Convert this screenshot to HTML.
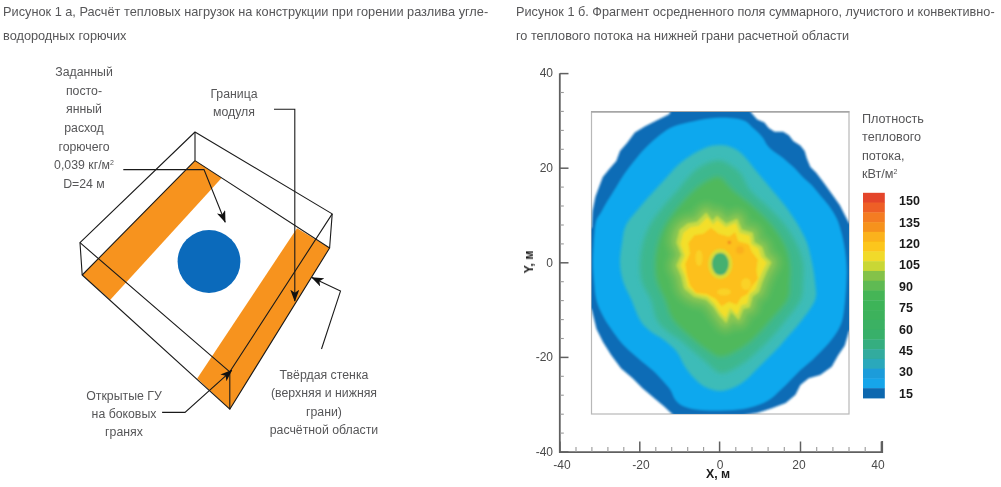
<!DOCTYPE html>
<html><head><meta charset="utf-8"><title>fig</title>
<style>
html,body{margin:0;padding:0;background:#fff}
body{width:1001px;height:487px;position:relative;overflow:hidden;font-family:"Liberation Sans",sans-serif;color:#565658}
.t{position:absolute;white-space:nowrap;font-size:12.65px;line-height:14px;will-change:transform}
.l{font-size:12.3px}
.c{text-align:center;transform:translateX(-50%)}
.r{text-align:right;transform:translateX(-100%)}
.ax{font-size:12px;color:#4a4a4a}
.b{font-weight:bold;color:#1a1a1a}
sup{font-size:7px;line-height:0;vertical-align:baseline;position:relative;top:-4.5px}
svg{position:absolute;left:0;top:0}
</style></head><body>
<div class="t" style="left:3px;top:5.1px;font-size:12.75px">Рисунок 1 а, Расчёт тепловых нагрузок на конструкции при горении разлива угле-</div>
<div class="t" style="left:3px;top:28.7px;font-size:12.75px">водородных горючих</div>
<div class="t" style="left:516.2px;top:5.1px;font-size:12.7px">Рисунок 1 б. Фрагмент осредненного поля суммарного, лучистого и конвективно-</div>
<div class="t" style="left:516.2px;top:28.8px;font-size:12.7px">го теплового потока на нижней грани расчетной области</div>

<svg width="1001" height="487" viewBox="0 0 1001 487">
<defs>
<filter id="bl" x="-5%" y="-5%" width="110%" height="110%"><feGaussianBlur stdDeviation="1.1"/></filter>
<filter id="bl3" x="-5%" y="-5%" width="110%" height="110%"><feGaussianBlur stdDeviation="2.6"/></filter>
<filter id="bl5" x="-5%" y="-5%" width="110%" height="110%"><feGaussianBlur stdDeviation="1.8"/></filter>
<filter id="bl4" x="-5%" y="-5%" width="110%" height="110%"><feGaussianBlur stdDeviation="1.3"/></filter>
<filter id="bl2"><feGaussianBlur stdDeviation="0.6"/></filter>
<clipPath id="box"><rect x="591.5" y="112" width="257.5" height="302"/></clipPath>
<marker id="ah" viewBox="0 0 12 9" refX="11.3" refY="4.5" markerWidth="12" markerHeight="9" orient="auto" markerUnits="userSpaceOnUse"><path d="M0,0L12,4.5L0,9L3,4.5Z" fill="#111"/></marker>
</defs>

<!-- left diagram -->
<g>
<polygon points="82.2,275 195,160.6 221.6,178 110.3,299.8" fill="#f7931e"/>
<polygon points="297,228.2 329.6,248 229.8,409.2 197.2,378.4" fill="#f7931e"/>
<circle cx="209" cy="261.5" r="31.4" fill="#0b6abb"/>
<g fill="none" stroke="#1a1a1a" stroke-width="1.1" stroke-linejoin="round">
<polygon points="195,132 332.2,213.9 229.8,371.8 80,242.7"/>
<polygon points="195,160.6 329.6,248 229.8,409.2 82.2,275"/>
<path d="M195,132V160.6M80,242.7L82.2,275M229.8,371.8V409.2M332.2,213.9L329.6,248"/>
</g>
<g fill="none" stroke="#1a1a1a" stroke-width="1.1">
<path d="M123.3,169.6H204L225.2,222.2" marker-end="url(#ah)"/>
<path d="M274,109.2H294.8V301" marker-end="url(#ah)"/>
<path d="M321.5,349L340.5,291.1L311.9,277.6" marker-end="url(#ah)"/>
<path d="M162.1,412.4H185L231.8,370.3" marker-end="url(#ah)"/>
</g>
</g>

<!-- right chart -->
<g filter="url(#bl2)"><path d="M559.8,73.3V452.2H882.2V441" fill="none" stroke="#606060" stroke-width="1.8"/><path d="M560.0,452v-10.5" stroke="#606060" stroke-width="1.5"/><path d="M560,452.0h8.5" stroke="#606060" stroke-width="1.5"/><path d="M576.0,452v-5" stroke="#999" stroke-width="1.1"/><path d="M560,433.1h3.8" stroke="#999" stroke-width="1.1"/><path d="M591.9,452v-5" stroke="#999" stroke-width="1.1"/><path d="M560,414.2h3.8" stroke="#999" stroke-width="1.1"/><path d="M607.9,452v-5" stroke="#999" stroke-width="1.1"/><path d="M560,395.2h3.8" stroke="#999" stroke-width="1.1"/><path d="M623.8,452v-5" stroke="#999" stroke-width="1.1"/><path d="M560,376.3h3.8" stroke="#999" stroke-width="1.1"/><path d="M639.8,452v-10.5" stroke="#606060" stroke-width="1.5"/><path d="M560,357.4h8.5" stroke="#606060" stroke-width="1.5"/><path d="M655.8,452v-5" stroke="#999" stroke-width="1.1"/><path d="M560,338.5h3.8" stroke="#999" stroke-width="1.1"/><path d="M671.7,452v-5" stroke="#999" stroke-width="1.1"/><path d="M560,319.6h3.8" stroke="#999" stroke-width="1.1"/><path d="M687.7,452v-5" stroke="#999" stroke-width="1.1"/><path d="M560,300.6h3.8" stroke="#999" stroke-width="1.1"/><path d="M703.6,452v-5" stroke="#999" stroke-width="1.1"/><path d="M560,281.7h3.8" stroke="#999" stroke-width="1.1"/><path d="M719.6,452v-10.5" stroke="#606060" stroke-width="1.5"/><path d="M560,262.8h8.5" stroke="#606060" stroke-width="1.5"/><path d="M735.8,452v-5" stroke="#999" stroke-width="1.1"/><path d="M560,243.9h3.8" stroke="#999" stroke-width="1.1"/><path d="M752.0,452v-5" stroke="#999" stroke-width="1.1"/><path d="M560,225.0h3.8" stroke="#999" stroke-width="1.1"/><path d="M768.1,452v-5" stroke="#999" stroke-width="1.1"/><path d="M560,206.0h3.8" stroke="#999" stroke-width="1.1"/><path d="M784.3,452v-5" stroke="#999" stroke-width="1.1"/><path d="M560,187.1h3.8" stroke="#999" stroke-width="1.1"/><path d="M800.5,452v-10.5" stroke="#606060" stroke-width="1.5"/><path d="M560,168.2h8.5" stroke="#606060" stroke-width="1.5"/><path d="M816.7,452v-5" stroke="#999" stroke-width="1.1"/><path d="M560,149.3h3.8" stroke="#999" stroke-width="1.1"/><path d="M832.9,452v-5" stroke="#999" stroke-width="1.1"/><path d="M560,130.4h3.8" stroke="#999" stroke-width="1.1"/><path d="M849.0,452v-5" stroke="#999" stroke-width="1.1"/><path d="M560,111.4h3.8" stroke="#999" stroke-width="1.1"/><path d="M865.2,452v-5" stroke="#999" stroke-width="1.1"/><path d="M560,92.5h3.8" stroke="#999" stroke-width="1.1"/><path d="M881.4,452v-10.5" stroke="#606060" stroke-width="1.5"/><path d="M560,73.6h8.5" stroke="#606060" stroke-width="1.5"/></g>
<g filter="url(#bl2)"><rect x="591.5" y="112" width="257.5" height="302" fill="#fff" stroke="#b8b8b8" stroke-width="1.2"/><path d="M591,111.8H849.5" stroke="#a6a6a6" stroke-width="1.6"/></g>
<g clip-path="url(#box)"><g filter="url(#bl)">
<polygon points="671.0,110.0 749.5,110.0 751.5,113.0 757.2,119.5 764.4,122.4 768.7,128.1 774.5,131.7 783.1,131.7 788.9,135.3 793.2,141.0 800.3,145.4 804.7,151.1 806.8,158.3 810.4,166.9 816.2,172.7 823.4,182.2 831.7,193.7 839.9,205.2 844.8,215.1 849.1,223.3 851.0,223.0 851.0,330.7 849.1,330.7 844.8,345.4 838.2,355.3 831.7,366.8 820.2,375.0 808.7,378.3 800.4,384.9 795.5,394.8 785.7,403.0 772.5,407.9 757.7,412.8 741.3,415.5 673.7,415.5 663.9,406.2 654.0,398.0 642.5,388.2 632.6,378.3 621.1,368.4 611.3,355.3 603.1,342.2 596.5,329.0 591.6,309.3 590.0,309.0 590.0,228.0 591.7,228.0 592.4,211.4 595.4,196.7 599.1,186.8 602.8,177.0 608.9,169.6 616.3,161.0 620.0,151.1 627.4,142.5 634.8,132.6 644.7,126.5 657.0,120.3 669.3,114.2" fill="#0f6cb6"/>
<path d="M715.0,118.1C721.9,117.6 729.6,117.9 734.7,118.5C739.8,119.1 742.9,120.2 745.7,121.6C748.5,123.0 749.6,125.0 751.5,126.7C753.4,128.4 755.3,129.8 757.2,131.7C759.1,133.6 761.3,135.9 763.0,138.2C764.7,140.5 765.6,143.2 767.3,145.4C769.0,147.6 770.9,149.3 773.0,151.1C775.1,152.9 777.8,154.3 780.2,156.1C782.6,157.9 785.0,159.9 787.4,161.9C789.8,163.9 792.1,165.9 794.6,168.3C797.1,170.7 799.2,173.6 802.1,176.5C805.0,179.4 808.9,182.3 811.9,185.5C814.9,188.7 817.5,192.1 820.2,195.4C823.0,198.7 825.7,201.4 828.4,205.2C831.1,209.0 834.4,213.7 836.6,218.4C838.8,223.1 840.1,228.0 841.5,233.2C842.9,238.4 844.0,244.3 844.8,249.6C845.6,254.9 846.1,260.0 846.4,265.0C846.7,270.0 846.7,273.4 846.4,279.7C846.1,286.0 845.6,295.6 844.8,302.7C844.0,309.8 843.4,316.6 841.5,322.4C839.6,328.1 836.3,332.8 833.3,337.2C830.3,341.6 827.0,344.9 823.4,348.7C819.8,352.5 815.7,356.6 811.9,360.2C808.1,363.8 803.9,366.8 800.4,370.1C796.9,373.4 793.9,376.7 790.6,380.0C787.3,383.3 784.3,386.5 780.7,389.8C777.1,393.1 773.6,397.0 769.2,399.7C764.8,402.4 759.6,404.6 754.4,406.2C749.2,407.8 744.6,408.8 738.0,409.5C731.4,410.2 721.9,410.5 715.0,410.5C708.1,410.5 701.9,410.2 696.7,409.5C691.5,408.8 687.2,407.8 683.6,406.2C680.0,404.6 677.6,402.4 675.4,399.7C673.2,397.0 672.6,393.1 670.4,389.8C668.2,386.5 665.2,383.3 662.2,380.0C659.2,376.7 655.7,373.1 652.4,370.1C649.1,367.1 646.1,364.9 642.5,361.9C638.9,358.9 634.6,355.3 631.0,352.0C627.4,348.7 624.4,346.0 621.1,342.2C617.8,338.4 614.3,333.4 611.3,329.0C608.3,324.6 605.6,320.7 603.1,315.9C600.6,311.1 598.0,306.0 596.5,300.0C595.0,294.0 594.6,286.3 594.0,280.0C593.4,273.7 593.0,268.7 593.0,262.0C593.0,255.3 593.5,246.7 594.0,240.0C594.5,233.3 594.8,226.7 596.0,222.0C597.2,217.3 599.4,215.6 601.4,212.0C603.4,208.4 605.5,204.4 608.0,200.3C610.5,196.2 613.5,191.6 616.2,187.2C618.9,182.8 621.4,178.4 624.4,174.0C627.4,169.6 630.7,165.3 634.3,160.9C637.9,156.5 641.4,152.1 645.8,147.7C650.2,143.3 656.0,138.1 660.6,134.6C665.2,131.1 668.2,128.6 673.7,126.4C679.2,124.2 686.5,122.8 693.4,121.4C700.3,120.0 708.1,118.6 715.0,118.1Z" fill="#08a8ee"/>
</g><g filter="url(#bl5)">
<path d="M720.0,145.0C724.3,145.0 728.2,145.8 732.0,147.5C735.8,149.2 738.8,150.9 743.0,155.0C747.2,159.1 752.2,166.2 757.0,172.0C761.8,177.8 767.2,184.2 772.0,190.0C776.8,195.8 781.7,201.2 786.0,207.0C790.3,212.8 794.5,219.0 798.0,225.0C801.5,231.0 804.7,236.7 807.0,243.0C809.3,249.3 810.7,256.5 812.0,263.0C813.3,269.5 814.5,275.8 815.0,282.0C815.5,288.2 817.2,293.7 815.0,300.0C812.8,306.3 807.0,313.3 802.0,320.0C797.0,326.7 789.0,335.3 785.0,340.0C781.0,344.7 780.8,345.0 778.0,348.0C775.2,351.0 771.3,354.7 768.0,358.0C764.7,361.3 761.5,364.5 758.0,368.0C754.5,371.5 750.8,375.8 747.0,379.0C743.2,382.2 739.5,385.0 735.0,387.0C730.5,389.0 725.0,391.0 720.0,391.0C715.0,391.0 709.5,389.3 705.0,387.0C700.5,384.7 696.5,380.7 693.0,377.0C689.5,373.3 686.7,369.2 684.0,365.0C681.3,360.8 680.3,356.2 677.0,352.0C673.7,347.8 668.5,343.5 664.0,340.0C659.5,336.5 654.0,334.3 650.0,331.0C646.0,327.7 643.1,325.2 640.0,320.0C636.9,314.8 634.3,306.5 631.5,300.0C628.7,293.5 624.9,287.2 623.0,281.0C621.1,274.8 620.2,269.3 620.0,263.0C619.8,256.7 621.0,249.3 622.0,243.0C623.0,236.7 623.0,231.0 626.0,225.0C629.0,219.0 635.2,212.8 640.0,207.0C644.8,201.2 650.7,194.8 655.0,190.0C659.3,185.2 662.3,182.0 666.0,178.0C669.7,174.0 673.0,169.7 677.0,166.0C681.0,162.3 685.2,159.1 690.0,156.0C694.8,152.9 701.0,149.3 706.0,147.5C711.0,145.7 715.7,145.0 720.0,145.0Z" fill="#3cbcb8"/>
</g><g filter="url(#bl3)">
<path d="M720.0,160.5C723.5,160.9 726.5,162.8 730.0,165.0C733.5,167.2 737.7,169.8 741.0,174.0C744.3,178.2 745.5,184.5 750.0,190.0C754.5,195.5 762.2,201.2 768.0,207.0C773.8,212.8 780.2,218.7 785.0,225.0C789.8,231.3 794.0,238.7 797.0,245.0C800.0,251.3 802.0,256.8 803.0,263.0C804.0,269.2 803.4,275.8 803.0,282.0C802.6,288.2 803.3,293.7 800.5,300.0C797.7,306.3 791.2,313.3 786.0,320.0C780.8,326.7 775.0,333.7 769.0,340.0C763.0,346.3 755.8,353.2 750.0,358.0C744.2,362.8 739.0,366.5 734.0,369.0C729.0,371.5 724.5,374.0 720.0,373.0C715.5,372.0 711.3,366.5 707.0,363.0C702.7,359.5 698.5,355.8 694.0,352.0C689.5,348.2 684.5,343.5 680.0,340.0C675.5,336.5 670.8,334.3 667.0,331.0C663.2,327.7 659.7,325.2 657.0,320.0C654.3,314.8 653.5,306.3 651.0,300.0C648.5,293.7 643.8,288.2 642.0,282.0C640.2,275.8 639.8,269.5 640.0,263.0C640.2,256.5 641.3,249.3 643.0,243.0C644.7,236.7 646.7,231.0 650.0,225.0C653.3,219.0 658.3,212.8 663.0,207.0C667.7,201.2 674.0,194.7 678.0,190.0C682.0,185.3 683.8,182.5 687.0,179.0C690.2,175.5 693.3,171.8 697.0,169.0C700.7,166.2 705.2,163.9 709.0,162.5C712.8,161.1 716.5,160.1 720.0,160.5Z" fill="#3db88e"/>
<path d="M720.0,177.0C724.2,178.7 727.3,185.0 733.0,190.0C738.7,195.0 747.5,201.2 754.0,207.0C760.5,212.8 766.8,218.7 772.0,225.0C777.2,231.3 782.0,238.7 785.0,245.0C788.0,251.3 789.2,256.8 790.0,263.0C790.8,269.2 790.4,275.8 790.0,282.0C789.6,288.2 790.7,293.7 787.5,300.0C784.3,306.3 776.8,313.3 771.0,320.0C765.2,326.7 758.5,334.7 752.5,340.0C746.5,345.3 740.4,349.2 735.0,352.0C729.6,354.8 724.7,357.3 720.0,357.0C715.3,356.7 711.3,352.8 707.0,350.0C702.7,347.2 699.7,345.0 694.0,340.0C688.3,335.0 677.8,326.7 673.0,320.0C668.2,313.3 667.7,306.3 665.0,300.0C662.3,293.7 658.7,288.2 657.0,282.0C655.3,275.8 654.8,269.5 655.0,263.0C655.2,256.5 656.3,249.3 658.0,243.0C659.7,236.7 661.7,231.0 665.0,225.0C668.3,219.0 673.2,212.8 678.0,207.0C682.8,201.2 689.0,194.5 694.0,190.0C699.0,185.5 703.7,182.2 708.0,180.0C712.3,177.8 715.8,175.3 720.0,177.0Z" fill="#4fb95c"/>
<path d="M717.0,216.2C719.3,216.7 722.9,223.4 726.2,223.9C729.5,224.4 734.4,218.3 737.0,219.3C739.6,220.3 739.0,227.7 741.6,230.0C744.2,232.3 750.3,231.0 752.4,233.1C754.5,235.2 752.5,240.1 754.0,242.4C755.5,244.7 759.9,244.7 761.7,247.0C763.5,249.3 763.2,253.6 764.7,256.2C766.2,258.8 770.6,259.8 770.9,262.4C771.2,265.0 767.8,268.3 766.3,271.6C764.8,274.9 763.0,279.0 761.7,282.4C760.4,285.8 760.2,289.4 758.6,291.7C757.0,294.0 754.0,293.7 752.4,296.3C750.8,298.9 750.8,305.1 749.3,307.1C747.8,309.2 745.0,306.6 743.2,308.6C741.4,310.7 740.7,318.9 738.6,319.4C736.5,319.9 733.0,311.2 730.9,311.7C728.8,312.2 728.0,321.7 726.2,322.5C724.4,323.3 722.2,318.9 720.1,316.3C718.0,313.7 716.2,309.9 713.9,307.1C711.6,304.3 709.5,301.2 706.2,299.4C702.9,297.6 697.5,298.1 693.9,296.3C690.3,294.5 686.6,291.9 684.6,288.6C682.6,285.3 682.9,280.2 681.6,276.3C680.3,272.4 676.9,269.1 676.9,265.5C676.9,261.9 681.6,258.6 681.6,254.7C681.6,250.8 677.2,246.5 676.9,242.4C676.6,238.3 678.2,233.1 680.0,230.0C681.8,226.9 684.9,225.2 687.7,223.9C690.5,222.6 693.9,224.1 697.0,222.3C700.1,220.5 703.6,213.3 706.2,213.1C708.8,212.8 710.6,220.3 712.4,220.8C714.2,221.3 714.7,215.7 717.0,216.2Z" fill="#66bd59" stroke="#66bd59" stroke-width="22" stroke-linejoin="round"/>
<path d="M717.0,216.2C719.3,216.7 722.9,223.4 726.2,223.9C729.5,224.4 734.4,218.3 737.0,219.3C739.6,220.3 739.0,227.7 741.6,230.0C744.2,232.3 750.3,231.0 752.4,233.1C754.5,235.2 752.5,240.1 754.0,242.4C755.5,244.7 759.9,244.7 761.7,247.0C763.5,249.3 763.2,253.6 764.7,256.2C766.2,258.8 770.6,259.8 770.9,262.4C771.2,265.0 767.8,268.3 766.3,271.6C764.8,274.9 763.0,279.0 761.7,282.4C760.4,285.8 760.2,289.4 758.6,291.7C757.0,294.0 754.0,293.7 752.4,296.3C750.8,298.9 750.8,305.1 749.3,307.1C747.8,309.2 745.0,306.6 743.2,308.6C741.4,310.7 740.7,318.9 738.6,319.4C736.5,319.9 733.0,311.2 730.9,311.7C728.8,312.2 728.0,321.7 726.2,322.5C724.4,323.3 722.2,318.9 720.1,316.3C718.0,313.7 716.2,309.9 713.9,307.1C711.6,304.3 709.5,301.2 706.2,299.4C702.9,297.6 697.5,298.1 693.9,296.3C690.3,294.5 686.6,291.9 684.6,288.6C682.6,285.3 682.9,280.2 681.6,276.3C680.3,272.4 676.9,269.1 676.9,265.5C676.9,261.9 681.6,258.6 681.6,254.7C681.6,250.8 677.2,246.5 676.9,242.4C676.6,238.3 678.2,233.1 680.0,230.0C681.8,226.9 684.9,225.2 687.7,223.9C690.5,222.6 693.9,224.1 697.0,222.3C700.1,220.5 703.6,213.3 706.2,213.1C708.8,212.8 710.6,220.3 712.4,220.8C714.2,221.3 714.7,215.7 717.0,216.2Z" fill="#8cc751" stroke="#8cc751" stroke-width="9" stroke-linejoin="round"/>
</g><g filter="url(#bl4)">
<polygon points="717.0,216.2 726.2,223.9 737.0,219.3 741.6,230.0 752.4,233.1 754.0,242.4 761.7,247.0 764.7,256.2 770.9,262.4 766.3,271.6 761.7,282.4 758.6,291.7 752.4,296.3 749.3,307.1 743.2,308.6 738.6,319.4 730.9,311.7 726.2,322.5 720.1,316.3 713.9,307.1 706.2,299.4 693.9,296.3 684.6,288.6 681.6,276.3 676.9,265.5 681.6,254.7 676.9,242.4 680.0,230.0 687.7,223.9 697.0,222.3 706.2,213.1 712.4,220.8" fill="#c4da44" stroke="#c4da44" stroke-width="1" stroke-linejoin="round"/>
<polygon points="717.3,220.2 725.7,227.3 735.7,223.0 739.9,232.9 749.8,235.7 751.3,244.3 758.4,248.5 761.2,257.0 766.9,262.7 762.6,271.2 758.4,281.1 755.6,289.6 749.8,293.9 747.0,303.8 741.4,305.2 737.2,315.1 730.1,308.0 725.7,318.0 720.1,312.3 714.4,303.8 707.3,296.7 696.0,293.9 687.5,286.8 684.7,275.5 680.4,265.5 684.7,255.6 680.4,244.3 683.2,232.9 690.3,227.3 698.9,225.8 707.3,217.3 713.0,224.4" fill="#f3df2b"/>
<polygon points="718.5,233.8 729.1,236.8 735.2,232.3 738.2,241.3 748.7,244.3 751.8,251.9 757.8,259.4 756.3,270.0 757.8,279.0 751.8,286.6 747.3,294.1 741.2,297.2 736.7,304.7 729.1,301.7 721.6,306.3 715.6,298.7 706.5,294.1 695.9,292.7 689.9,285.1 686.9,274.5 685.3,263.9 689.9,253.5 688.4,242.9 694.4,235.3 703.4,233.8 711.0,227.8" fill="#fdc01c"/>
<ellipse cx="699" cy="258" rx="3.5" ry="8" fill="#fad226"/><ellipse cx="746" cy="284" rx="5" ry="6" fill="#fad226"/><ellipse cx="724" cy="292" rx="7" ry="3.5" fill="#fad226"/><ellipse cx="740" cy="250" rx="4" ry="4" fill="#fbb01c"/>
<ellipse cx="720.3" cy="264" rx="12" ry="15" fill="#dcdc34"/>
<ellipse cx="720.3" cy="264" rx="8.6" ry="11.2" fill="#45b070"/>
<circle cx="729.3" cy="242.4" r="1.6" fill="#f0801e"/>
</g></g>
<g filter="url(#bl2)"><rect x="863" y="192.80" width="21.8" height="10.17" fill="#e4452a"/><rect x="863" y="202.57" width="21.8" height="10.17" fill="#ee5f27"/><rect x="863" y="212.34" width="21.8" height="10.17" fill="#f47c22"/><rect x="863" y="222.11" width="21.8" height="10.17" fill="#f6921e"/><rect x="863" y="231.89" width="21.8" height="10.17" fill="#fbb21a"/><rect x="863" y="241.66" width="21.8" height="10.17" fill="#fcc61a"/><rect x="863" y="251.43" width="21.8" height="10.17" fill="#f1da2a"/><rect x="863" y="261.20" width="21.8" height="10.17" fill="#c9d735"/><rect x="863" y="270.97" width="21.8" height="10.17" fill="#84c249"/><rect x="863" y="280.74" width="21.8" height="10.17" fill="#5fba52"/><rect x="863" y="290.51" width="21.8" height="10.17" fill="#44b557"/><rect x="863" y="300.29" width="21.8" height="10.17" fill="#3eb459"/><rect x="863" y="310.06" width="21.8" height="10.17" fill="#3cb25c"/><rect x="863" y="319.83" width="21.8" height="10.17" fill="#3ab163"/><rect x="863" y="329.60" width="21.8" height="10.17" fill="#38b06a"/><rect x="863" y="339.37" width="21.8" height="10.17" fill="#35ae80"/><rect x="863" y="349.14" width="21.8" height="10.17" fill="#30ab9e"/><rect x="863" y="358.91" width="21.8" height="10.17" fill="#2aa8bb"/><rect x="863" y="368.69" width="21.8" height="10.17" fill="#1b9cda"/><rect x="863" y="378.46" width="21.8" height="10.17" fill="#14a5ea"/><rect x="863" y="388.23" width="21.8" height="10.17" fill="#0e67af"/></g>
</svg>

<div class="t c l" style="left:83.7px;top:62.9px;line-height:18.68px">Заданный<br>посто-<br>янный<br>расход<br>горючего<br>0,039 кг/м<sup>2</sup><br>D=24 м</div>
<div class="t c l" style="left:233.9px;top:85.3px;line-height:18.3px">Граница<br>модуля</div>
<div class="t c l" style="left:124.2px;top:386.5px;line-height:18.15px">Открытые ГУ<br>на боковых<br>гранях</div>
<div class="t c l" style="left:323.8px;top:365.8px;line-height:18.33px">Твёрдая стенка<br>(верхняя и нижняя<br>грани)<br>расчётной области</div>

<div class="t" style="left:862.3px;top:109.5px;line-height:18.45px">Плотность<br>теплового<br>потока,<br>кВт/м<sup>2</sup></div>
<div class="t b" style="left:899px;top:194.2px;font-size:12.5px">150</div>
<div class="t b" style="left:899px;top:215.6px;font-size:12.5px">135</div>
<div class="t b" style="left:899px;top:237.0px;font-size:12.5px">120</div>
<div class="t b" style="left:899px;top:258.4px;font-size:12.5px">105</div>
<div class="t b" style="left:899px;top:279.8px;font-size:12.5px">90</div>
<div class="t b" style="left:899px;top:301.2px;font-size:12.5px">75</div>
<div class="t b" style="left:899px;top:322.6px;font-size:12.5px">60</div>
<div class="t b" style="left:899px;top:344.0px;font-size:12.5px">45</div>
<div class="t b" style="left:899px;top:365.4px;font-size:12.5px">30</div>
<div class="t b" style="left:899px;top:386.8px;font-size:12.5px">15</div>
<div class="t ax c" style="left:561.5px;top:457.6px">-40</div>
<div class="t ax r" style="left:553px;top:444.7px">-40</div>
<div class="t ax c" style="left:640.5px;top:457.6px">-20</div>
<div class="t ax r" style="left:553px;top:350.1px">-20</div>
<div class="t ax c" style="left:719.7px;top:457.6px">0</div>
<div class="t ax r" style="left:553px;top:255.5px">0</div>
<div class="t ax c" style="left:798.9px;top:457.6px">20</div>
<div class="t ax r" style="left:553px;top:160.9px">20</div>
<div class="t ax c" style="left:877.5px;top:457.6px">40</div>
<div class="t ax r" style="left:553px;top:66.3px">40</div>
<div class="t b c" style="left:718px;top:467.2px;font-size:12.3px">X, м</div>
<div class="t b" style="left:528.6px;top:262px;font-size:12.3px;transform:translate(-50%,-50%) rotate(-90deg)">Y, м</div>
</body></html>
